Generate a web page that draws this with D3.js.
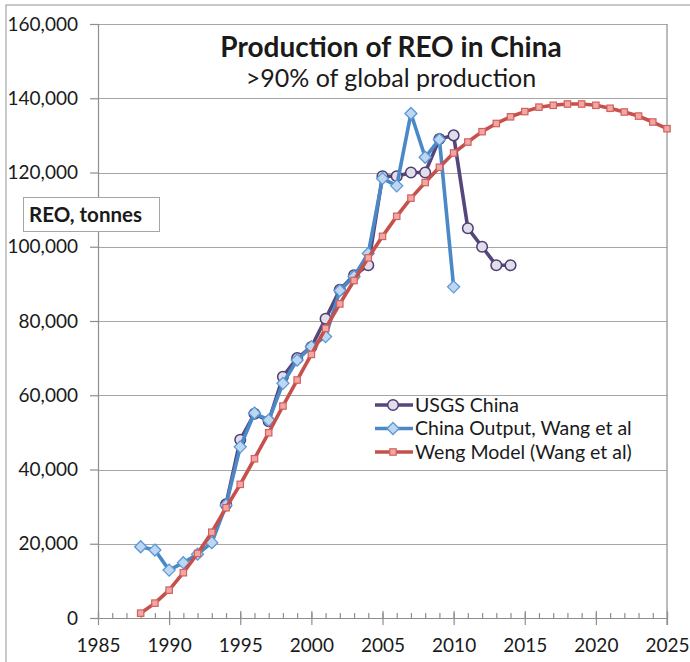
<!DOCTYPE html>
<html>
<head>
<meta charset="utf-8">
<script src="https://cdn.jsdelivr.net/npm/d3@7"></script>
<style>
  html, body { margin: 0; padding: 0; background: #fff; }
  svg { display: block; }
  text { font-family: Lato, "Open Sans", sans-serif; fill: #1a1a1a; }
</style>
</head>
<body>
<svg id="chart" width="690" height="662"></svg>
<script>
// ---- data ----
const usgsYears = [1994,1995,1996,1997,1998,1999,2000,2001,2002,2003,2004,2005,2006,2007,2008,2009,2010,2011,2012,2013,2014];
const usgsValues = [30600,48000,55000,53000,65000,70000,73000,80600,88400,92300,95000,119000,119000,120000,120000,129000,130000,105000,100000,95000,95000];

const wangYears = [1988,1989,1990,1991,1992,1993,1994,1995,1996,1997,1998,1999,2000,2001,2002,2003,2004,2005,2006,2007,2008,2009,2010];
const wangValues = [19200,18300,12900,14900,17200,20300,30400,46100,55200,53300,63200,69500,73100,75800,88200,92000,98200,118400,116400,135900,124100,128900,89200];

const wengYears = [1988,1989,1990,1991,1992,1993,1994,1995,1996,1997,1998,1999,2000,2001,2002,2003,2004,2005,2006,2007,2008,2009,2010,2011,2012,2013,2014,2015,2016,2017,2018,2019,2020,2021,2022,2023,2024,2025];
const wengValues = [1300,4000,7500,12200,17400,23100,29700,36000,42900,49900,57100,64100,71000,78000,84600,90900,97000,102800,108200,113100,117300,121400,125250,128200,131000,133200,135000,136400,137600,138100,138450,138450,138100,137300,136300,135200,133600,131800];

const yTicks = [0,20000,40000,60000,80000,100000,120000,140000,160000];
const xTicks = [1985,1990,1995,2000,2005,2010,2015,2020,2025];
const xMinorTicks = d3.range(1985, 2026);

const seriesNames = ["USGS China", "China Output, Wang et al", "Weng Model (Wang et al)"];
const titleText = "Production of REO in China";
const subtitleText = ">90% of global production";
const yAxisLabel = "REO, tonnes";

// ---- setup ----
const svg = d3.select("#chart");
const x = d3.scaleLinear().domain([1985, 2025]).range([98, 667]);
const y = d3.scaleLinear().domain([0, 160000]).range([618, 24]);

const gridColor = "#a6a6a6";
const axisColor = "#8e8e8e";

// outer chart border
svg.append("rect").attr("x", 6).attr("y", 5).attr("width", 720).attr("height", 720)
  .attr("fill", "none").attr("stroke", "#a6a6a6").attr("stroke-width", 1.2);

// gridlines
svg.append("g").selectAll("line").data(yTicks.filter(d => d > 0)).join("line")
  .attr("x1", x(1985)).attr("x2", x(2025))
  .attr("y1", d => Math.round(y(d)) + 0.5).attr("y2", d => Math.round(y(d)) + 0.5)
  .attr("stroke", gridColor).attr("stroke-width", 1);

// right border of plot area
svg.append("line").attr("x1", x(2025)).attr("x2", x(2025))
  .attr("y1", y(160000)).attr("y2", y(0) + 7)
  .attr("stroke", axisColor).attr("stroke-width", 1.2);

// y axis
const yAxis = svg.append("g").attr("transform", `translate(${x(1985)},0)`)
  .call(d3.axisLeft(y).tickValues(yTicks).tickSize(8).tickPadding(12).tickFormat(d3.format(",")));
yAxis.select(".domain").attr("stroke", axisColor).attr("stroke-width", 1.2);
yAxis.selectAll(".tick line").attr("stroke", axisColor).attr("stroke-width", 1.2);
yAxis.selectAll(".tick text").style("font-size", "19px").style("font-family", "Lato, sans-serif").attr("fill", "#1a1a1a");

// x axis: minor ticks (upward)
const xMinor = svg.append("g").attr("transform", `translate(0,${y(0)})`)
  .call(d3.axisTop(x).tickValues(xMinorTicks).tickSize(5).tickFormat(""));
xMinor.select(".domain").remove();
xMinor.selectAll(".tick line").attr("stroke", axisColor).attr("stroke-width", 1.2);

// x axis: major ticks (upward part)
const xMajorUp = svg.append("g").attr("transform", `translate(0,${y(0)})`)
  .call(d3.axisTop(x).tickValues(xTicks).tickSize(7).tickFormat(""));
xMajorUp.select(".domain").remove();
xMajorUp.selectAll(".tick line").attr("stroke", axisColor).attr("stroke-width", 1.2);

// x axis: main with labels
const xAxis = svg.append("g").attr("transform", `translate(0,${y(0)})`)
  .call(d3.axisBottom(x).tickValues(xTicks).tickSize(7).tickSizeOuter(0).tickFormat(d3.format("d")));
xAxis.select(".domain").attr("stroke", axisColor).attr("stroke-width", 1.2);
xAxis.selectAll(".tick line").attr("stroke", axisColor).attr("stroke-width", 1.2);
xAxis.selectAll(".tick text").attr("y", 34).attr("dy", null)
  .style("font-size", "19px").style("font-family", "Lato, sans-serif").attr("fill", "#1a1a1a");

// title
svg.append("text").attr("x", 391).attr("y", 57).attr("text-anchor", "middle")
  .style("font-size", "28px").style("font-weight", "bold").text(titleText);
svg.append("text").attr("x", 391).attr("y", 87).attr("text-anchor", "middle")
  .style("font-size", "25px").text(subtitleText);

// y axis label box
svg.append("rect").attr("x", 23.5).attr("y", 197.5).attr("width", 136).attr("height", 34)
  .attr("fill", "#fff").attr("stroke", gridColor).attr("stroke-width", 1);
svg.append("text").attr("x", 29).attr("y", 222)
  .style("font-size", "20.5px").style("font-weight", "bold").text(yAxisLabel);

// ---- series ----
const line = d3.line().x(d => x(d[0])).y(d => y(d[1]));
const usgsData = usgsYears.map((yr, i) => [yr, usgsValues[i]]);
const wangData = wangYears.map((yr, i) => [yr, wangValues[i]]);
const wengData = wengYears.map((yr, i) => [yr, wengValues[i]]);

const styles = [
  { line: "#56467c", fill: "#e2ddeb", stroke: "#4d3e70", shape: "circle" },
  { line: "#4a88c7", fill: "#bdd7f2", stroke: "#5b97d4", shape: "diamond" },
  { line: "#c5504c", fill: "#f3a7a5", stroke: "#d0615d", shape: "square" }
];

function drawMarker(g, shape, cx, cy, st) {
  if (shape === "circle") {
    g.append("circle").attr("cx", cx).attr("cy", cy).attr("r", 5.3)
      .attr("fill", st.fill).attr("stroke", st.stroke).attr("stroke-width", 1.5);
  } else if (shape === "diamond") {
    const s = 6;
    g.append("path").attr("d", `M${cx},${cy - s}L${cx + s},${cy}L${cx},${cy + s}L${cx - s},${cy}Z`)
      .attr("fill", st.fill).attr("stroke", st.stroke).attr("stroke-width", 1.3);
  } else {
    const s = 6.4;
    g.append("rect").attr("x", cx - s / 2).attr("y", cy - s / 2).attr("width", s).attr("height", s)
      .attr("fill", st.fill).attr("stroke", st.stroke).attr("stroke-width", 1.2);
  }
}

function drawSeries(data, st) {
  const g = svg.append("g");
  g.append("path").datum(data).attr("d", line).attr("fill", "none")
    .attr("stroke", st.line).attr("stroke-width", 3.6).attr("stroke-linejoin", "round");
  data.forEach(d => drawMarker(g, st.shape, x(d[0]), y(d[1]), st));
}

drawSeries(usgsData, styles[0]);
drawSeries(wangData, styles[1]);
drawSeries(wengData, styles[2]);

// ---- legend ----
const legend = svg.append("g");
legend.append("rect").attr("x", 362).attr("y", 397.5).attr("width", 285).attr("height", 71.5).attr("fill", "#fff");
const legendRows = [405, 428.5, 452];
seriesNames.forEach((name, i) => {
  const cy = legendRows[i];
  const st = styles[i];
  legend.append("line").attr("x1", 375).attr("x2", 413).attr("y1", cy).attr("y2", cy)
    .attr("stroke", st.line).attr("stroke-width", 3.6);
  drawMarker(legend, st.shape, 393, cy, st);
  legend.append("text").attr("x", 415).attr("y", cy).attr("dy", "0.35em")
    .style("font-size", "19.5px").text(name);
});
</script>
</body>
</html>
